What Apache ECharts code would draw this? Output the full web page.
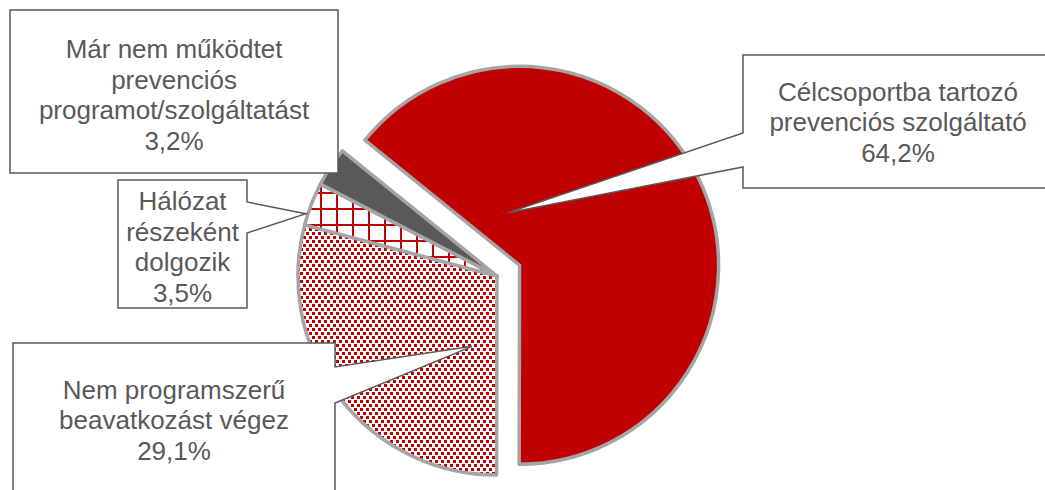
<!DOCTYPE html>
<html>
<head>
<meta charset="utf-8">
<script src="https://cdn.jsdelivr.net/npm/echarts@6/dist/echarts.min.js"></script>
<style>
  html, body { margin: 0; padding: 0; background: #ffffff; }
  #chart { width: 1045px; height: 490px; }
</style>
</head>
<body>
<div id="chart"></div>
<script>
// Slice names (with their line breaks) and shares in percent
const categories = [
  'Célcsoportba tartozó\nprevenciós szolgáltató',
  'Nem programszerű\nbeavatkozást végez',
  'Hálózat\nrészeként\ndolgozik',
  'Már nem működtet\nprevenciós\nprogramot/szolgáltatást'
];
const shares = [64.2, 29.1, 3.5, 3.2];

const RED = '#c00000';
const DARK = '#595959';
const EDGE = '#a5a5a5';

// Pie geometry
const CX = 497, CY = 276, R = 199, START = 141, EXPLODE = 25;

// Small repeating tiles for the patterned slices
function dotTile() {
  const c = document.createElement('canvas');
  c.width = 6; c.height = 8;
  const g = c.getContext('2d');
  g.fillStyle = '#ffffff'; g.fillRect(0, 0, 6, 8);
  g.fillStyle = RED;
  g.fillRect(0, 0, 3, 3);
  g.fillRect(3, 4, 3, 3);
  return c;
}
function gridTile() {
  const c = document.createElement('canvas');
  c.width = 16; c.height = 16;
  const g = c.getContext('2d');
  g.fillStyle = '#ffffff'; g.fillRect(0, 0, 16, 16);
  g.fillStyle = RED;
  g.fillRect(0, 0, 16, 2);
  g.fillRect(0, 0, 2, 16);
  return c;
}
const fills = [
  RED,
  { image: dotTile(), repeat: 'repeat', imageWidth: 6, imageHeight: 8 },
  { image: gridTile(), repeat: 'repeat', imageWidth: 16, imageHeight: 16 },
  DARK
];

// Point inside slice i: t = fraction along its arc, f = fraction of radius
function slicePoint(i, t, f) {
  const total = shares.reduce((a, b) => a + b, 0);
  let acc = 0;
  for (let j = 0; j < i; j++) acc += shares[j];
  const a0 = -START + 360 * acc / total;
  const a1 = a0 + 360 * shares[i] / total;
  let cx = CX, cy = CY;
  if (i === 0) {
    const mid = (a0 + a1) / 2 * Math.PI / 180;
    cx += EXPLODE * Math.cos(mid);
    cy += EXPLODE * Math.sin(mid);
  }
  const a = (a0 + t * (a1 - a0)) * Math.PI / 180;
  return [cx + f * R * Math.cos(a), cy + f * R * Math.sin(a)];
}

function pct(v) { return v.toFixed(1).replace('.', ',') + '%'; }

// Callout boxes: outline with a pointer wedge into the slice
const callouts = [
  { i: 0, box: [743, 55, 1053, 188], side: 'left', wedge: [133, 167], tip: [0.165, 0.27], text: [898, 122] },
  { i: 1, box: [13, 343, 335, 497], side: 'right', wedge: [367, 403], tip: [0.185, 0.375], text: [174, 420] },
  { i: 2, box: [118, 180, 247, 308], side: 'right', wedge: [202, 233], tip: [0.25, 1.01], text: [182.5, 247] },
  { i: 3, box: [10, 10, 338, 173], side: null, text: [174, 95] }
];

const graphics = [];
callouts.forEach(c => {
  const [x0, y0, x1, y1] = c.box;
  let pts;
  if (c.side === 'left') {
    const tp = slicePoint(c.i, c.tip[0], c.tip[1]);
    pts = [[x0, y0], [x1, y0], [x1, y1], [x0, y1], [x0, c.wedge[1]], tp, [x0, c.wedge[0]]];
  } else if (c.side === 'right') {
    const tp = slicePoint(c.i, c.tip[0], c.tip[1]);
    pts = [[x0, y0], [x1, y0], [x1, c.wedge[0]], tp, [x1, c.wedge[1]], [x1, y1], [x0, y1]];
  } else {
    pts = [[x0, y0], [x1, y0], [x1, y1], [x0, y1]];
  }
  graphics.push({
    type: 'polygon',
    z: 100,
    silent: true,
    shape: { points: pts },
    style: { fill: '#ffffff', stroke: DARK, lineWidth: 1.5, lineJoin: 'miter' }
  });
  graphics.push({
    type: 'text',
    z: 101,
    silent: true,
    x: c.text[0],
    y: c.text[1],
    style: {
      text: categories[c.i] + '\n' + pct(shares[c.i]),
      font: '26px "Liberation Sans", Arial, sans-serif',
      fill: DARK,
      align: 'center',
      verticalAlign: 'middle',
      lineHeight: 30.5
    }
  });
});

const chart = echarts.init(document.getElementById('chart'), null, { renderer: 'svg' });
chart.setOption({
  animation: false,
  backgroundColor: '#ffffff',
  series: [{
    type: 'pie',
    center: [CX, CY],
    radius: R,
    startAngle: START,
    clockwise: true,
    selectedMode: true,
    selectedOffset: EXPLODE,
    silent: true,
    avoidLabelOverlap: false,
    label: { show: false },
    labelLine: { show: false },
    emphasis: { disabled: true },
    itemStyle: { borderColor: EDGE, borderWidth: 3.5 },
    data: shares.map((v, i) => ({
      name: categories[i],
      value: v,
      selected: i === 0,
      itemStyle: { color: fills[i] }
    }))
  }],
  graphic: graphics
});
</script>
</body>
</html>
